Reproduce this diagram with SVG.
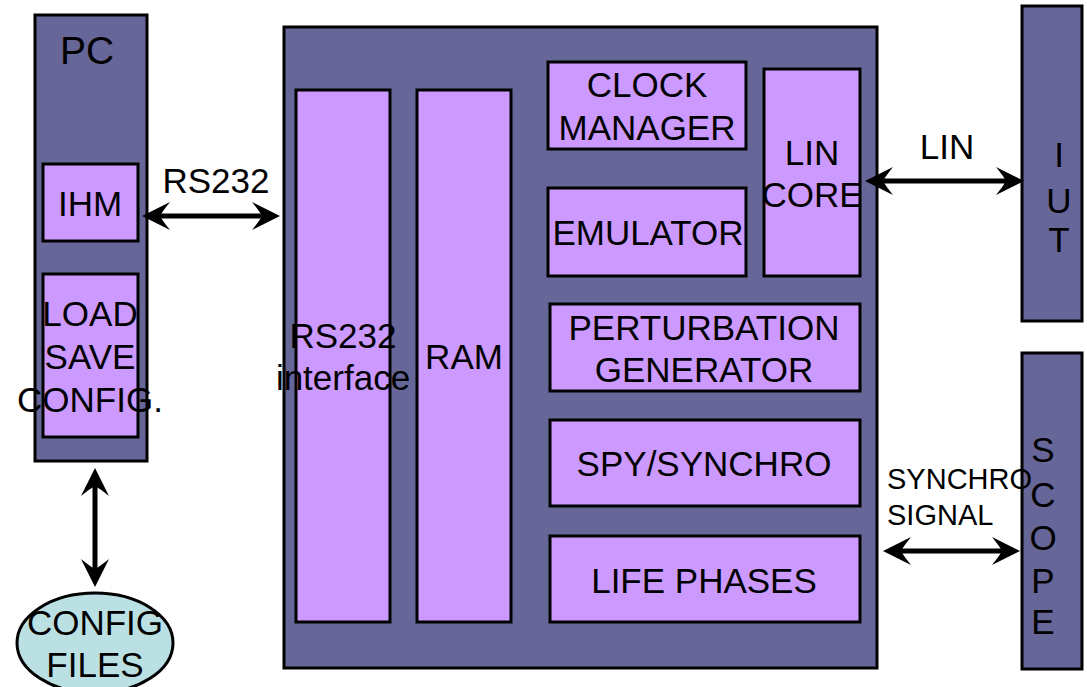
<svg xmlns="http://www.w3.org/2000/svg" width="1087" height="687" viewBox="0 0 1087 687">
  <defs>
    <style>
      .outer { fill: #666699; stroke: #000; stroke-width: 3; }
      .inner { fill: #CC99FF; stroke: #000; stroke-width: 3; }
      .file { fill: #BBE0E3; stroke: #000; stroke-width: 3; }
      .lbl { font-family: "Liberation Sans", Arial, sans-serif; font-size: 35px; fill: #000; text-anchor: middle; }
      .big { font-size: 39px; }
      .sm { font-size: 29px; text-anchor: start; }
      .wire { stroke: #000; stroke-width: 5; fill: none; }
      .head { fill: #000; }
    </style>
    <!-- swept-back arrowhead, tip at origin pointing +x -->
    <path id="tip" d="M0,0 L-28,-14 Q-20,-4 -18,0 Q-20,4 -28,14 Z"/>
  </defs>
  <rect width="1087" height="687" fill="#fff"/>

  <g id="pc">
    <rect class="outer" x="35" y="15" width="112" height="446"/>
    <text class="lbl big" x="87" y="64">PC</text>
  </g>
  <g id="ihm">
    <rect class="inner" x="43" y="164" width="95" height="77"/>
    <text class="lbl" x="90" y="216">IHM</text>
  </g>
  <g id="load-save">
    <rect class="inner" x="43" y="274" width="95" height="163"/>
    <text class="lbl" x="90" y="326">LOAD</text>
    <text class="lbl" x="90" y="369">SAVE</text>
    <text class="lbl" x="90" y="412">CONFIG.</text>
  </g>
  <g id="config-files">
    <ellipse class="file" cx="95" cy="643" rx="78" ry="50"/>
    <text class="lbl" x="95" y="635">CONFIG</text>
    <text class="lbl" x="95" y="677">FILES</text>
  </g>

  <g id="board">
    <rect class="outer" x="284" y="27" width="593" height="641"/>
  </g>
  <g id="rs232-interface">
    <rect class="inner" x="296" y="90" width="94" height="532"/>
    <text class="lbl" x="343" y="348">RS232</text>
    <text class="lbl" x="343" y="390">interface</text>
  </g>
  <g id="ram">
    <rect class="inner" x="417" y="90" width="94" height="532"/>
    <text class="lbl" x="464" y="369">RAM</text>
  </g>
  <g id="clock-manager">
    <rect class="inner" x="548" y="62" width="198" height="87"/>
    <text class="lbl" x="647" y="97">CLOCK</text>
    <text class="lbl" x="647" y="140">MANAGER</text>
  </g>
  <g id="emulator">
    <rect class="inner" x="548" y="188" width="198" height="88"/>
    <text class="lbl" x="648" y="245">EMULATOR</text>
  </g>
  <g id="lin-core">
    <rect class="inner" x="764" y="69" width="96" height="207"/>
    <text class="lbl" x="812" y="165">LIN</text>
    <text class="lbl" x="812" y="207">CORE</text>
  </g>
  <g id="perturbation">
    <rect class="inner" x="550" y="304" width="310" height="87"/>
    <text class="lbl" x="704" y="340">PERTURBATION</text>
    <text class="lbl" x="704" y="382">GENERATOR</text>
  </g>
  <g id="spy-synchro">
    <rect class="inner" x="550" y="420" width="310" height="86"/>
    <text class="lbl" x="704" y="476">SPY/SYNCHRO</text>
  </g>
  <g id="life-phases">
    <rect class="inner" x="550" y="536" width="310" height="86"/>
    <text class="lbl" x="704" y="593">LIFE PHASES</text>
  </g>

  <g id="iut">
    <rect class="outer" x="1022" y="6" width="60" height="315"/>
    <text class="lbl" x="1059" y="167">I</text>
    <text class="lbl" x="1059" y="213">U</text>
    <text class="lbl" x="1059" y="252">T</text>
  </g>
  <g id="scope">
    <rect class="outer" x="1022" y="353" width="60" height="316"/>
    <text class="lbl" x="1043" y="462">S</text>
    <text class="lbl" x="1043" y="507">C</text>
    <text class="lbl" x="1043" y="550">O</text>
    <text class="lbl" x="1043" y="593">P</text>
    <text class="lbl" x="1043" y="634">E</text>
  </g>

  <g id="connectors">
    <!-- PC <-> board serial link -->
    <line class="wire" x1="158" y1="216" x2="264" y2="216"/>
    <use href="#tip" class="head" transform="translate(142,216) rotate(180)"/>
    <use href="#tip" class="head" transform="translate(280,216)"/>
    <text class="lbl" x="216" y="193">RS232</text>

    <!-- LIN bus -->
    <line class="wire" x1="880" y1="181" x2="1008" y2="181"/>
    <use href="#tip" class="head" transform="translate(865,181) rotate(180)"/>
    <use href="#tip" class="head" transform="translate(1024,181)"/>
    <text class="lbl" x="947" y="159">LIN</text>

    <!-- synchro signal to scope -->
    <line class="wire" x1="898" y1="551" x2="1004" y2="551"/>
    <use href="#tip" class="head" transform="translate(883,551) rotate(180)"/>
    <use href="#tip" class="head" transform="translate(1020,551)"/>
    <text class="lbl sm" x="887" y="489">SYNCHRO</text>
    <text class="lbl sm" x="887" y="525">SIGNAL</text>

    <!-- PC <-> config files -->
    <line class="wire" x1="95" y1="484" x2="95" y2="571"/>
    <use href="#tip" class="head" transform="translate(95,468) rotate(-90)"/>
    <use href="#tip" class="head" transform="translate(95,587) rotate(90)"/>
  </g>
</svg>
